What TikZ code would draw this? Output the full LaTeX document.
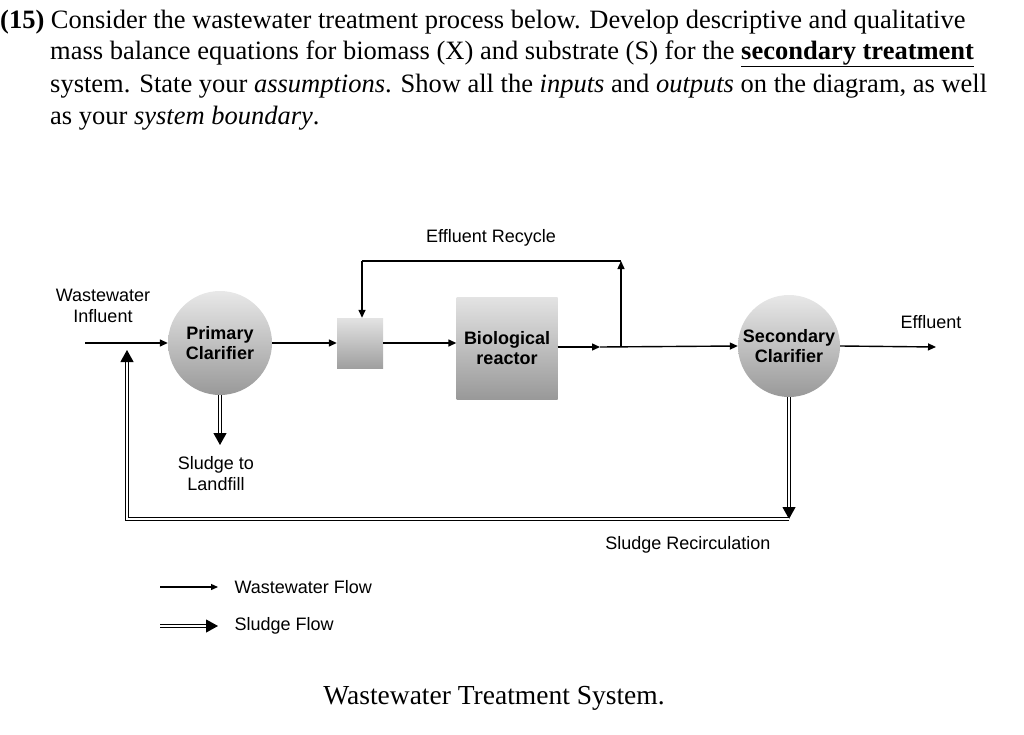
\documentclass[tikz,border=0pt]{standalone}
\usepackage{fontspec}
\setmainfont{Liberation Serif}
\newfontfamily\sansf{Liberation Sans}
\usetikzlibrary{arrows.meta}
\begin{document}
\begin{tikzpicture}[x=1pt,y=-1pt,
 lab/.style={font=\sansf\fontsize{18}{21}\selectfont,align=center},
 blab/.style={font=\sansf\bfseries\fontsize{18}{20}\selectfont,align=center},
 flow/.style={draw,line width=1.4pt,-{Triangle[length=8pt,width=7pt]}},
 sludge/.style={draw,double,line width=1.1pt,double distance=2.5pt,-{Triangle[length=12pt,width=13pt]}},
 plain/.style={draw,line width=1.4pt},
 ttl/.style={font=\fontsize{26.5}{30}\selectfont,anchor=west,inner sep=0}]
\useasboundingbox (0,0) rectangle (1024,735);
% question text
\node[ttl] (t1) at (0,22) {\textbf{(15)} Consider the wastewater treatment process below. Develop descriptive and qualitative};
\node[ttl] (t2) at (50,54) {mass balance equations for biomass (X) and substrate (S) for the \underline{\textbf{secondary treatment}}};
\node[ttl] (t3) at (50,86) {system. State your \textit{assumptions}. Show all the \textit{inputs} and \textit{outputs} on the diagram, as well};
\node[ttl] (t4) at (50,118) {as your \textit{system boundary}.};
% units
\node[circle,minimum size=104pt,inner sep=0,top color=gray!18,bottom color=gray!80,blab] (pc) at (220,343) {Primary\\Clarifier};
\node[minimum width=46pt,minimum height=50pt,inner sep=0,top color=gray!22,bottom color=gray!75] (mx) at (360,343) {};
\node[minimum width=101pt,minimum height=102pt,inner sep=0,top color=gray!22,bottom color=gray!80,blab] (br) at (507,348) {Biological\\reactor};
\node[circle,minimum size=102pt,inner sep=0,top color=gray!18,bottom color=gray!80,blab] (sc) at (789,346) {Secondary\\Clarifier};
% coordinates
\coordinate (in0) at (85,343);
\coordinate (jn) at (127,350);
\coordinate (bl) at (127,519);
\coordinate (br0) at (789,519);
\coordinate (sp) at (600,347);
\coordinate (rj) at (621,347);
\coordinate (rt) at (621,261);
\coordinate (lt) at (362,261);
\coordinate (ef) at (936,347);
\coordinate (ld) at (220,445);
% connectors
\path[flow] (in0) -- (pc.west |- in0);
\path[flow] (pc.east) -- (mx.west);
\path[flow] (mx.east) -- (br.west |- mx.east);
\path[flow] (br.east |- sp) -- (sp);
\path[flow] (sp) -- (sc.west);
\path[flow] (rj) -- (rt);
\path[plain] (rt) -- (lt);
\path[flow] (lt) -- (mx.north -| lt);
\path[flow] (sc.east) -- (ef);
\path[sludge] (pc.south) -- (ld);
\path[sludge] (sc.south) -- (br0);
\path[sludge] (br0) -- (bl) -- (jn);
% labels
\node[lab] (l1) at (491,238) {Effluent Recycle};
\node[lab] (l2) at (103,306) {Wastewater\\Influent};
\node[lab] (l3) at (931,322) {Effluent};
\node[lab] (l4) at (216,474) {Sludge to\\Landfill};
\node[lab] (l5) at (688,545) {Sludge Recirculation};
% legend
\coordinate (a1) at (160,587); \coordinate (a2) at (218,587);
\coordinate (b1) at (160,626); \coordinate (b2) at (218,626);
\path[draw,line width=1.3pt,-{Triangle[length=7pt,width=6pt]}] (a1) -- (a2);
\path[sludge] (b1) -- (b2);
\node[lab,anchor=west] (g1) at (231,587) {Wastewater Flow};
\node[lab,anchor=west] (g2) at (231,626) {Sludge Flow};
\node[font=\fontsize{27.5}{30}\selectfont] (cap) at (494,698) {Wastewater Treatment System.};
\end{tikzpicture}
\end{document}
